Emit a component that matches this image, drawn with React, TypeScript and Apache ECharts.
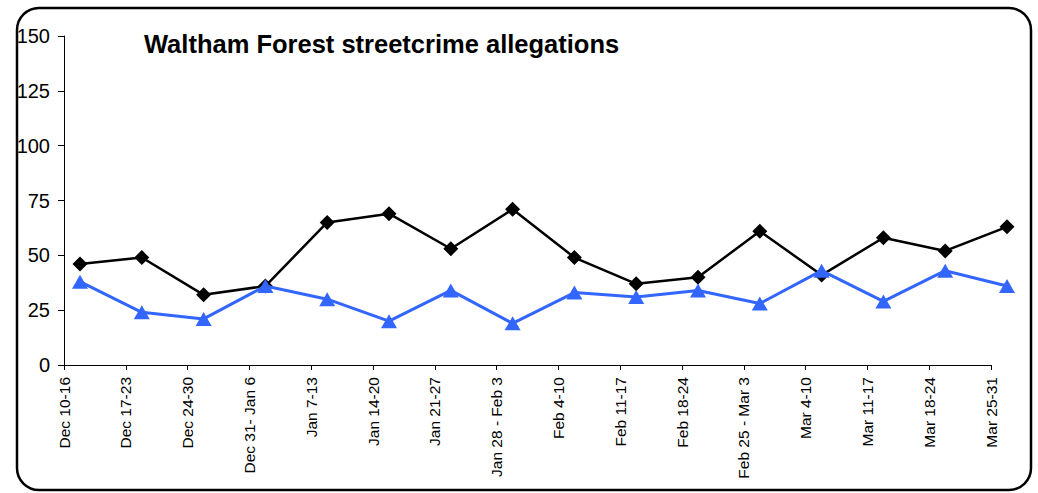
import React, { useEffect, useRef } from "react";
import * as echarts from "echarts";

const categories = [
  "Dec 10-16", "Dec 17-23", "Dec 24-30", "Dec 31- Jan 6", "Jan 7-13", "Jan 14-20",
  "Jan 21-27", "Jan 28 - Feb 3", "Feb 4-10", "Feb 11-17", "Feb 18-24",
  "Feb 25 - Mar 3", "Mar 4-10", "Mar 11-17", "Mar 18-24", "Mar 25-31",
];
const blackSeries = [46, 49, 32, 36, 65, 69, 53, 71, 49, 37, 40, 61, 41, 58, 52, 63];
const blueSeries = [38, 24, 21, 36, 30, 20, 34, 19, 33, 31, 34, 28, 43, 29, 43, 36];
const yTicks = { min: 0, max: 150, interval: 25 };
const titleText = "Waltham Forest streetcrime allegations";

const FONT = "'Liberation Sans', Arial, sans-serif";

export default function App() {
  const ref = useRef<HTMLDivElement>(null);
  useEffect(() => {
    if (!ref.current) return;
    const chart = echarts.init(ref.current, null, { renderer: "svg" });
    const gridTop = 36;
    const gridHeight = 329;
    const gridWidth = 927;
    chart.setOption({
      animation: false,
      backgroundColor: "#ffffff",
      title: {
        text: titleText,
        left: 139,
        top: 26,
        textStyle: { fontFamily: FONT, fontSize: 25.5, fontWeight: "bold", color: "#000" },
      },
      grid: [
        { left: 64, top: gridTop, width: gridWidth, height: gridHeight, containLabel: false },
        { left: 80, top: gridTop, width: gridWidth, height: gridHeight, containLabel: false },
      ],
      xAxis: [
        {
          type: "category",
          gridIndex: 0,
          data: categories,
          boundaryGap: false,
          axisLine: { lineStyle: { color: "#000", width: 1 } },
          axisTick: { length: 5, lineStyle: { color: "#000" }, interval: 0 },
          axisLabel: {
            rotate: 90,
            interval: 0,
            margin: 12,
            fontFamily: FONT,
            fontSize: 15.5,
            color: "#000",
          },
          splitLine: { show: false },
        },
        {
          type: "category",
          gridIndex: 1,
          data: categories,
          boundaryGap: false,
          show: false,
        },
      ],
      yAxis: [
        {
          type: "value",
          gridIndex: 0,
          min: yTicks.min,
          max: yTicks.max,
          interval: yTicks.interval,
          axisLine: { show: true, lineStyle: { color: "#000", width: 1 } },
          axisTick: { show: true, length: 6, lineStyle: { color: "#000" } },
          axisLabel: { margin: 14, fontFamily: FONT, fontSize: 20, color: "#000" },
          splitLine: { show: false },
        },
        {
          type: "value",
          gridIndex: 1,
          min: yTicks.min,
          max: yTicks.max,
          interval: yTicks.interval,
          show: false,
          splitLine: { show: false },
        },
      ],
      series: [
        {
          name: "black",
          type: "line",
          xAxisIndex: 1,
          yAxisIndex: 1,
          data: blackSeries,
          clip: false,
          symbol: "diamond",
          symbolSize: 15,
          lineStyle: { color: "#000", width: 2.5 },
          itemStyle: { color: "#000" },
          z: 2,
        },
        {
          name: "blue",
          type: "line",
          xAxisIndex: 1,
          yAxisIndex: 1,
          data: blueSeries,
          clip: false,
          symbol: "triangle",
          symbolSize: [16, 14],
          lineStyle: { color: "#3366ff", width: 3 },
          itemStyle: { color: "#3366ff" },
          z: 3,
        },
      ],
      graphic: [
        {
          type: "rect",
          z: 100,
          shape: { x: 17, y: 8, width: 1014, height: 482, r: 22 },
          style: { fill: "none", stroke: "#000", lineWidth: 2.5 },
          silent: true,
        },
      ],
    });
    return () => chart.dispose();
  }, []);
  return (
    <div
      ref={ref}
      style={{ position: "fixed", left: 0, top: 0, width: 1038, height: 493, background: "#fff" }}
    />
  );
}
